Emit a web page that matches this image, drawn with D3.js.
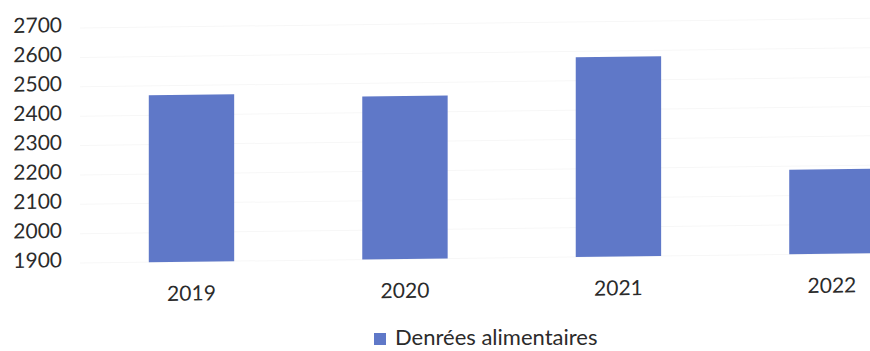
<!DOCTYPE html>
<html>
<head>
<meta charset="utf-8">
<script src="https://cdn.jsdelivr.net/npm/d3@7/dist/d3.min.js"></script>
<style>
  html, body { margin: 0; padding: 0; background: #ffffff; }
  svg { display: block; font-family: Lato, "Open Sans", sans-serif; }
</style>
</head>
<body>
<svg id="chart" width="870" height="351"></svg>
<script>
// Annual volumes, food products
const years = ["2019", "2020", "2021", "2022"];
const values = [2468, 2455, 2580, 2188];
const yTicks = [1900, 2000, 2100, 2200, 2300, 2400, 2500, 2600, 2700];
const seriesName = "Denrées alimentaires";

const W = 870, H = 351;
const barColor = "#5f78c8";
const textColor = "#2b2b2b";

const svg = d3.select("#chart");

// the printed page sits slightly tilted
const plot = svg.append("g").attr("transform", "skewY(-0.7)");

const x = d3.scaleBand()
  .domain(years)
  .range([20.7, 1002.7])
  .paddingInner(0.6)
  .paddingOuter(0.6);

const y = d3.scaleLinear()
  .domain([1900, 2700])
  .range([264, 29]);

// very faint horizontal gridlines
plot.append("g")
  .selectAll("line")
  .data(yTicks)
  .join("line")
  .attr("x1", 80)
  .attr("x2", W + 20)
  .attr("y1", d => y(d))
  .attr("y2", d => y(d))
  .attr("stroke", "#f7f7f7")
  .attr("stroke-width", 1);

// value axis labels
const yAxis = d3.axisLeft(y).tickValues(yTicks).tickSize(0).tickPadding(0).tickFormat(d3.format("d"));
const yAxisG = plot.append("g")
  .attr("transform", "translate(62,-4)")
  .call(yAxis);
yAxisG.select(".domain").remove();
yAxisG.selectAll("text")
  .attr("fill", textColor)
  .attr("font-size", 21)
  .attr("font-family", "Lato, 'Open Sans', sans-serif")
  .attr("dy", "0.36em")
  .attr("x", 0);

// bars
plot.append("g")
  .selectAll("rect")
  .data(years.map((yr, i) => ({ yr, v: values[i] })))
  .join("rect")
  .attr("x", d => x(d.yr))
  .attr("width", x.bandwidth())
  .attr("y", d => y(d.v))
  .attr("height", d => y(1900) - y(d.v))
  .attr("fill", barColor);

// category axis labels
const xAxis = d3.axisBottom(x).tickSize(0).tickPadding(0);
const xAxisG = plot.append("g")
  .attr("transform", `translate(0,${y(1900) + 24})`)
  .call(xAxis);
xAxisG.select(".domain").remove();
xAxisG.selectAll("text")
  .attr("fill", textColor)
  .attr("font-size", 21)
  .attr("font-family", "Lato, 'Open Sans', sans-serif")
  .attr("dy", "0.71em");

// legend
const legend = svg.append("g").attr("transform", "translate(374,345)");
legend.append("rect")
  .attr("x", 0)
  .attr("y", -12)
  .attr("width", 12)
  .attr("height", 12)
  .attr("fill", barColor);
legend.append("text")
  .attr("x", 21)
  .attr("y", 0)
  .attr("fill", textColor)
  .attr("font-size", 22)
  .text(seriesName);
</script>
</body>
</html>
